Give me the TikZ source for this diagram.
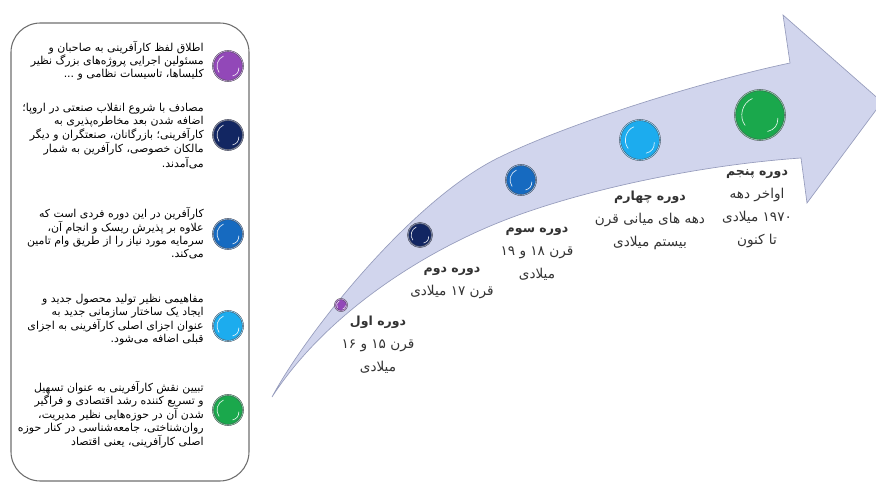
\documentclass[tikz,border=0pt]{standalone}
\usepackage{fontspec}
\newfontfamily\fafont[Script=Arabic]{DejaVu Sans}
\TeXXeTstate=1
\usetikzlibrary{calc}

\newcommand{\fa}[1]{\beginR #1\endR}
\newcommand{\fnum}[1]{\beginL #1\endL{}}
\newcommand{\stagehead}[1]{{\bfseries\fontsize{9.4}{17}\selectfont\fa{#1}}}
\newcommand{\gloss}[1]{%
\draw [glint] ($(#1.center)!0.72!(#1.215)$) .. controls ($(#1.center)!0.86!(#1.185)$) and ($(#1.center)!0.86!(#1.145)$) .. ($(#1.center)!0.72!(#1.115)$);
\draw [glint] ($(#1.center)!0.72!(#1.-10)$) .. controls ($(#1.center)!0.82!(#1.-30)$) and ($(#1.center)!0.82!(#1.-45)$) .. ($(#1.center)!0.72!(#1.-65)$);}

\definecolor{arrowfill}{RGB}{209,213,237}
\definecolor{arrowline}{RGB}{150,156,188}
\definecolor{ballA}{RGB}{146,72,184}
\definecolor{ballB}{RGB}{18,38,98}
\definecolor{ballC}{RGB}{22,106,192}
\definecolor{ballD}{RGB}{28,172,238}
\definecolor{ballE}{RGB}{26,168,76}

\tikzset{
  ball/.style={circle, inner sep=0pt, fill=#1, draw={rgb, 255:red, 70; green, 70; blue, 80}, line width=0.3pt, double=#1!55!white, double distance=0.6pt},
  glint/.style={white, line width=0.5pt, line cap=round, opacity=0.85},
  paneltext/.style={font=\fafont\fontsize{8.2}{9.6}\selectfont, align=right, inner sep=0pt, text=black},
  stagetext/.style={font=\fafont\fontsize{10.2}{17.2}\selectfont, align=center, inner sep=0pt, text=black!80},
}

\begin{document}
\begin{tikzpicture}[x=0.75pt,y=0.75pt,yscale=-1,xscale=1]
\path [use as bounding box] (0,0) rectangle (876,485);

%Shape: Rounded Rectangle [id:panel]
\draw [color={rgb, 255:red, 110; green, 110; blue, 110 }, line width=0.8pt, rounded corners=22pt] (11,23) rectangle (249,481);

%Shape: Curved Arrow [id:timeline]
\draw [fill=arrowfill, draw=arrowline, line width=0.5pt] (272,397) .. controls (305,335) and (411,200) .. (500,157) .. controls (570,123) and (700,82) .. (790,63) -- (783,15) -- (882,102) -- (807,203) -- (801,158) .. controls (700,165) and (580,190) .. (500,222) .. controls (420,254) and (325,315) .. (272,397) -- cycle ;

%Shape: Circle [id:legend balls]
\draw (228,66) node [ball=ballA, minimum size=22.5pt] (keyA) {};
\draw (228,135) node [ball=ballB, minimum size=22.5pt] (keyB) {};
\draw (228,234) node [ball=ballC, minimum size=22.5pt] (keyC) {};
\draw (228,326) node [ball=ballD, minimum size=22.5pt] (keyD) {};
\draw (228,410) node [ball=ballE, minimum size=22.5pt] (keyE) {};

%Shape: Circle [id:timeline balls]
\draw (341,305) node [ball=ballA, minimum size=9pt] (dotA) {};
\draw (420,235) node [ball=ballB, minimum size=18pt] (dotB) {};
\draw (521,180) node [ball=ballC, minimum size=22.5pt] (dotC) {};
\draw (640,140) node [ball=ballD, minimum size=30pt] (dotD) {};
\draw (760,115) node [ball=ballE, minimum size=37.5pt] (dotE) {};

\gloss{keyA} \gloss{keyB} \gloss{keyC} \gloss{keyD} \gloss{keyE}
\gloss{dotA} \gloss{dotB} \gloss{dotC} \gloss{dotD} \gloss{dotE}

% Text Node
\draw (204,61) node [anchor=east] [paneltext] (noteA) {\fa{اطلاق لفظ کارآفرینی به صاحبان و}\\ \fa{مسئولین اجرایی پروژه‌های بزرگ نظیر}\\ \fa{کلیساها، تاسیسات نظامی و ...}};
% Text Node
\draw (204,136) node [anchor=east] [paneltext] (noteB) {\fa{مصادف با شروع انقلاب صنعتی در اروپا؛}\\ \fa{اضافه شدن بعد مخاطره‌پذیری به}\\ \fa{کارآفرینی؛ بازرگانان، صنعتگران و دیگر}\\ \fa{مالکان خصوصی، کارآفرین به شمار}\\ \fa{می‌آمدند.}};
% Text Node
\draw (204,233) node [anchor=east] [paneltext] (noteC) {\fa{کارآفرین در این دوره فردی است که}\\ \fa{علاوه بر پذیرش ریسک و انجام آن،}\\ \fa{سرمایه مورد نیاز را از طریق وام تامین}\\ \fa{می‌کند.}};
% Text Node
\draw (204,320) node [anchor=east] [paneltext] (noteD) {\fa{مفاهیمی نظیر تولید محصول جدید و}\\ \fa{ایجاد یک ساختار سازمانی جدید به}\\ \fa{عنوان اجزای اصلی کارآفرینی به اجزای}\\ \fa{قبلی اضافه می‌شود.}};
% Text Node
\draw (204,415) node [anchor=east] [paneltext] (noteE) {\fa{تبیین نقش کارآفرینی به عنوان تسهیل}\\ \fa{و تسریع کننده رشد اقتصادی و فراگیر}\\ \fa{شدن آن در حوزه‌هایی نظیر مدیریت،}\\ \fa{روان‌شناختی، جامعه‌شناسی در کنار حوزه}\\ \fa{اصلی کارآفرینی، یعنی اقتصاد}};

% Text Node
\draw (378,345) node [stagetext] (stageA) {\stagehead{دوره اول}\\ \fa{قرن \fnum{۱۵} و \fnum{۱۶}}\\ \fa{میلادی}};
% Text Node
\draw (452,283) node [stagetext] (stageB) {\stagehead{دوره دوم}\\ \fa{قرن \fnum{۱۷} میلادی}};
% Text Node
\draw (537,254) node [stagetext] (stageC) {\stagehead{دوره سوم}\\ \fa{قرن \fnum{۱۸} و \fnum{۱۹}}\\ \fa{میلادی}};
% Text Node
\draw (650,220) node [stagetext] (stageD) {\stagehead{دوره چهارم}\\ \fa{دهه های میانی قرن}\\ \fa{بیستم میلادی}};
% Text Node
\draw (757,209) node [stagetext] (stageE) {\stagehead{دوره پنجم}\\ \fa{اواخر دهه}\\ \fa{\fnum{۱۹۷۰} میلادی}\\ \fa{تا کنون}};

\end{tikzpicture}
\end{document}
